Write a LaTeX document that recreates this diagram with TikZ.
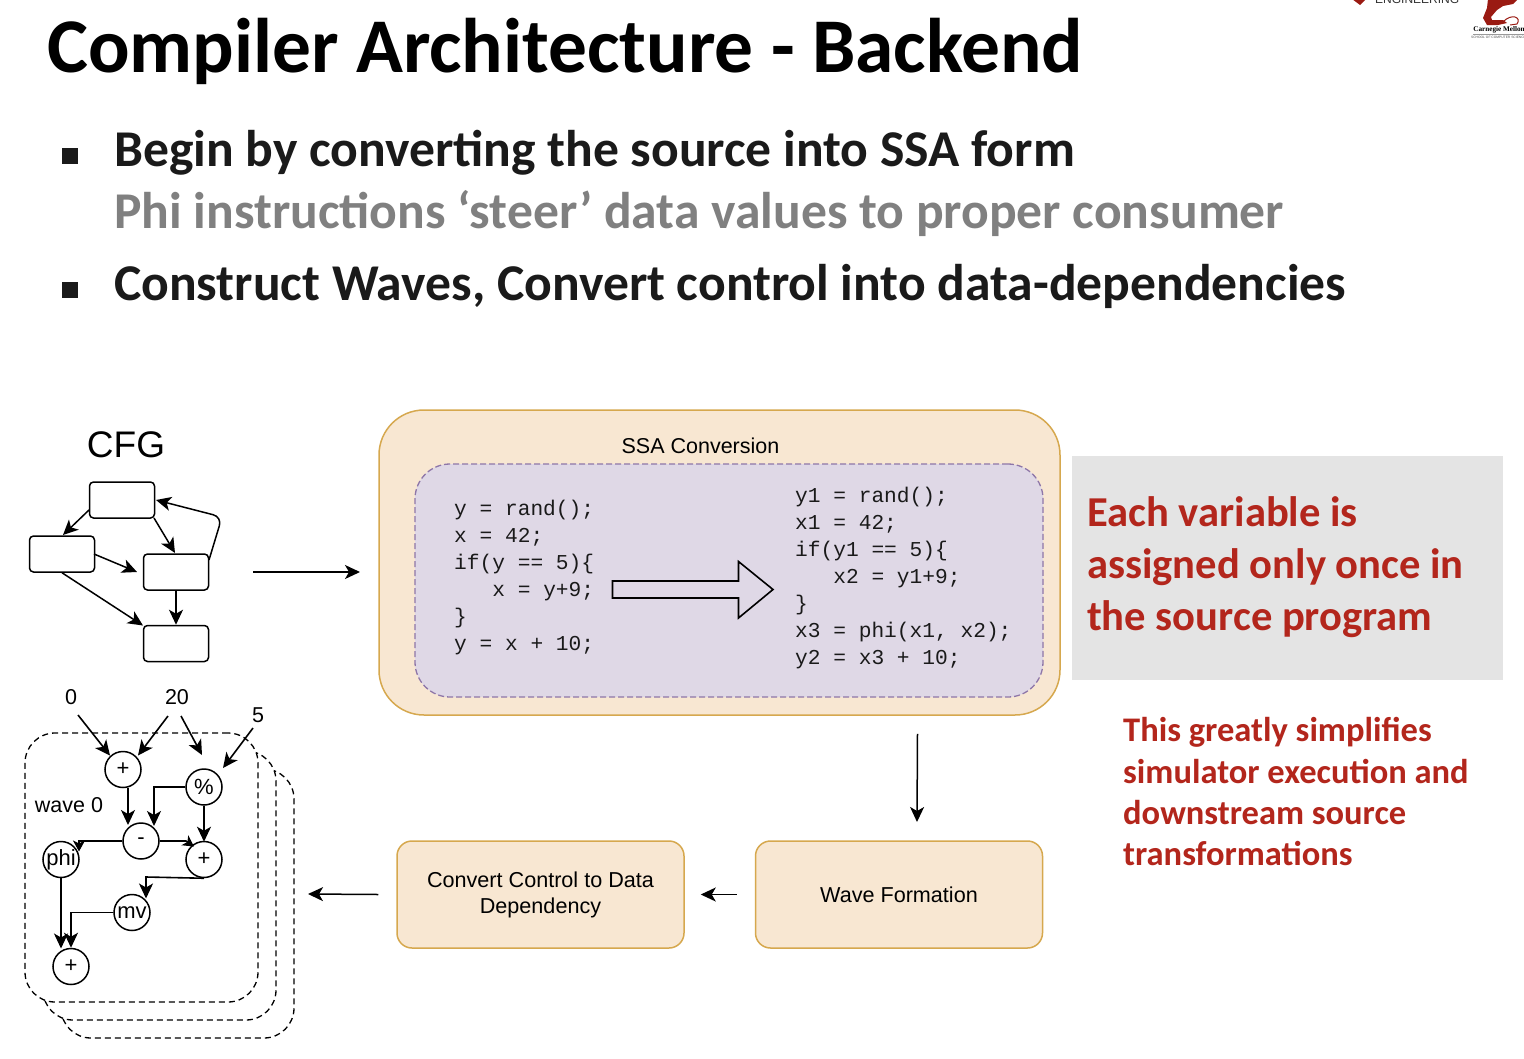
\documentclass[tikz,border=0pt]{standalone}
\usepackage{fontspec}
\setmainfont{Carlito}
\newfontfamily\helv{Liberation Sans}
\newfontfamily\mono{Liberation Mono}
\newfontfamily\tms{Liberation Serif}
\usetikzlibrary{arrows.meta,shapes.arrows}
\definecolor{softred}{HTML}{B3261C}
\definecolor{lightorange}{HTML}{F8E7D2}
\definecolor{orangeedge}{HTML}{D6A84E}
\definecolor{lilac}{HTML}{DFD8E6}
\definecolor{lilacedge}{HTML}{8E76A8}
\definecolor{graypanel}{HTML}{E4E4E4}
\definecolor{inkdark}{HTML}{1A1A1A}
\definecolor{dragon}{HTML}{9A1A12}
\tikzset{
  flow/.style={line width=1.6pt,-{Stealth[length=15pt,width=14pt,inset=4pt]}},
  tinyflow/.style={line width=1.6pt,-{Stealth[length=11pt,width=12pt,inset=3pt]}},
  plainflow/.style={line width=1.5pt,-{Stealth[length=15pt,width=14pt,inset=4pt]}},
  cfgbox/.style={draw,line width=1.5pt,rounded corners=4pt,minimum width=65pt,minimum height=36pt,inner sep=0pt,fill=white},
  opnode/.style={draw,circle,line width=1.5pt,minimum size=36pt,inner sep=0pt,fill=white,font=\helv\fontsize{22}{24}\selectfont},
  sheet/.style={draw,dashed,dash pattern=on 6pt off 4pt,line width=1.3pt,rounded corners=30pt,fill=white,inner sep=0pt,minimum width=233pt,minimum height=269pt},
  stepnode/.style={draw=orangeedge,fill=lightorange,line width=1.5pt,rounded corners=15pt,minimum width=287pt,minimum height=107pt,inner sep=0pt,align=center,font=\helv\fontsize{21.6}{26}\selectfont},
  lab/.style={inner sep=0pt,font=\helv\fontsize{21.5}{24}\selectfont},
  code/.style={inner sep=0pt,anchor=west,align=left,font=\mono\fontsize{21.2}{27}\selectfont,text=inkdark},
  headline/.style={inner sep=0pt,anchor=base west,font=\bfseries\fontsize{51.6}{52}\selectfont,text=inkdark},
  redbig/.style={inner sep=0pt,anchor=base west,font=\bfseries\fontsize{42.6}{43}\selectfont,text=softred},
  redsmall/.style={inner sep=0pt,anchor=base west,font=\bfseries\fontsize{34.5}{35}\selectfont,text=softred},
  bullet/.style={inner sep=0pt,minimum size=16pt,fill=inkdark},
}
\begin{document}
\begin{tikzpicture}[x=1pt,y=-1pt]
\useasboundingbox (0,0) rectangle (1524,1058);
\clip (0,0) rectangle (1524,1058);
\fill[white] (0,0) rectangle (1524,1058);

% logo
\node[inner sep=0pt,anchor=base west,font=\helv\fontsize{12}{12}\selectfont,text=black!80] (eng) at (1375,3) {ENGINEERING};
\fill[dragon] (1352,-1) -- (1366,-1) -- (1360,5) -- cycle;
\fill[dragon] (1488,-1) -- (1518,-1) -- (1513,4) -- (1503,6) -- (1497,10) -- (1491,17) -- (1492,20) -- (1503,20) -- (1507,23) -- (1498,25) -- (1487,25) -- (1483,18) -- (1487,8) -- cycle;
\draw[dragon,line width=1pt] (1503,22) .. controls (1511,13) and (1522,17) .. (1517,24) -- (1510,25);
\node[inner sep=0pt,font=\tms\bfseries\fontsize{7.2}{8}\selectfont] (cmu) at (1499,30) {Carnegie Mellon};
\draw[black!40,line width=0.5pt] (1473,34) -- (1524,34);
\node[inner sep=0pt,font=\helv\fontsize{3.3}{4}\selectfont,text=black!70] (scs) at (1498.5,37) {SCHOOL OF COMPUTER SCIENCE};

% header text
\node[inner sep=0pt,anchor=base west,font=\bfseries\fontsize{77.4}{78}\selectfont,text=black] (title) at (47,72) {Compiler Architecture - Backend};
\node[bullet] (b1) at (70,156) {};
\node[bullet] (b2) at (70,290) {};
\node[headline] (l1) at (114,166) {Begin by converting the source into SSA form};
\node[headline,text=black!50] (l2) at (114,228) {Phi instructions ‘steer’ data values to proper consumer};
\node[headline] (l3) at (114,300) {Construct Waves, Convert control into data-dependencies};

% CFG
\node[inner sep=0pt,font=\helv\fontsize{37}{40}\selectfont] (cfg) at (126,444.5) {CFG};
\node[cfgbox] (c1) at (122,500) {};
\node[cfgbox] (c2) at (62,554) {};
\node[cfgbox] (c3) at (176,572) {};
\node[cfgbox] (c4) at (176,643.5) {};
\draw[plainflow] ([shift={(-33,10)}]c1.center) -- ([shift={(1,-19)}]c2.center);
\draw[plainflow] ([shift={(32,18)}]c1.center) -- ([shift={(-1,-19)}]c3.center);
\draw[plainflow] ([shift={(32,0)}]c2.center) -- ([shift={(-39,0)}]c3.center);
\draw[plainflow] (c2.south) -- ([shift={(-33,-18)}]c4.center);
\draw[plainflow] (c3.south) -- (c4.north);
\draw[plainflow,rounded corners=9pt] ([shift={(33,-12)}]c3.center) -- (222,517) -- (156,500);

% SSA
\node[draw=orangeedge,fill=lightorange,line width=1.5pt,rounded corners=45pt,minimum width=681pt,minimum height=305pt,inner sep=0pt] (ssa) at (719.5,562.5) {};
\node[lab] (ssat) at (700.5,445.5) {SSA Conversion};
\node[draw=lilacedge,dashed,dash pattern=on 6pt off 3pt,fill=lilac,line width=1.3pt,rounded corners=35pt,minimum width=628pt,minimum height=233pt,inner sep=0pt] (inner) at (729,580.5) {};
\node[code] (src) at (454,578) {y = rand();\\x = 42;\\if(y == 5)\{\\\phantom{xxx}x = y+9;\\\}\\y = x + 10;};
\node[code] (dst) at (795,578) {y1 = rand();\\x1 = 42;\\if(y1 == 5)\{\\\phantom{xxx}x2 = y1+9;\\\}\\x3 = phi(x1, x2);\\y2 = x3 + 10;};
\draw[line width=1.6pt,fill=lilac] (612.5,581) -- (738.5,581) -- (738.5,561.5) -- (773,589.5) -- (738.5,618) -- (738.5,598) -- (612.5,598) -- cycle;

% right panels
\node[fill=graypanel,minimum width=431pt,minimum height=224pt,inner sep=0pt] (panel) at (1287.5,568) {};
\node[redbig] (r1) at (1087,526) {Each variable is};
\node[redbig] (r2) at (1087,578) {assigned only once in};
\node[redbig] (r3) at (1087,630) {the source program};
\node[redsmall] (s1) at (1123,741) {This greatly simplifies};
\node[redsmall] (s2) at (1123,783) {simulator execution and};
\node[redsmall] (s3) at (1123,824) {downstream source};
\node[redsmall] (s4) at (1123,865) {transformations};

% steps
\node[stepnode] (conv) at (540.5,894.5) {Convert Control to Data\\Dependency};
\node[stepnode] (wf) at (899,894.5) {Wave Formation};
\coordinate (cfgout) at (253,572);
\coordinate (ssain) at (360,572);
\coordinate (wfin) at (917,822);
\coordinate (wavein) at (308,894);
\draw[plainflow] (cfgout) -- (ssain);
\draw[plainflow] ([xshift=198pt]ssa.south) ++(0,18) -- (wfin);
\draw[plainflow] ([xshift=-18pt]wf.west) -- ([xshift=-54pt]wf.west);
\draw[plainflow] ([xshift=-18pt]conv.west) -- (wavein);

% waves
\node[sheet] (w3) at (177.5,903.5) {};
\node[sheet] (w2) at (159.5,885.5) {};
\node[sheet] (w1) at (141.5,867.5) {};
\node[lab] (wl) at (69,805) {wave 0};
\node[lab] (in0) at (71,697) {0};
\node[lab] (in20) at (177,697) {20};
\node[lab] (in5) at (258,715) {5};
\node[opnode] (p1) at (123,769.5) {+};
\node[opnode] (mod) at (204,787) {\%};
\node[opnode] (minus) at (141,841) {-};
\node[opnode] (p2) at (204,859.5) {+};
\node[opnode] (phi) at (61,859.5) {phi};
\node[opnode] (mv) at (132,912.5) {mv};
\node[opnode] (p3) at (71,966.5) {+};
\draw[flow] ([shift={(7,18)}]in0.center) -- ([shift={(-13,-14)}]p1.center);
\draw[flow] ([shift={(-9,19)}]in20.center) -- ([shift={(15,-14)}]p1.center);
\draw[flow] ([shift={(4,19)}]in20.center) -- ([shift={(-2,-32)}]mod.center);
\draw[flow] ([shift={(-5,13)}]in5.center) -- ([shift={(19,-19)}]mod.center);
\draw[flow] ([shift={(5,18)}]p1.center) -- ([shift={(-13,-16)}]minus.center);
\draw[flow] (mod.west) -- (154,787) -- ([shift={(13,-15)}]minus.center);
\draw[flow] (mod.south) -- ([yshift=-1pt]p2.north);
\draw[tinyflow] (minus.east) -- (186,841) -- ([shift={(-10,-13)}]p2.center);
\draw[tinyflow] (minus.west) -- (79,841) -- ([shift={(18,-8)}]phi.center);
\draw[flow] (p2.south) -- (146,877) -- ([shift={(14,-14)}]mv.center);
\draw[flow] (phi.south) -- ([shift={(-10,-18)}]p3.center);
\draw[flow] (mv.west) -- (71,912.5) -- (p3.north);
\end{tikzpicture}
\end{document}
